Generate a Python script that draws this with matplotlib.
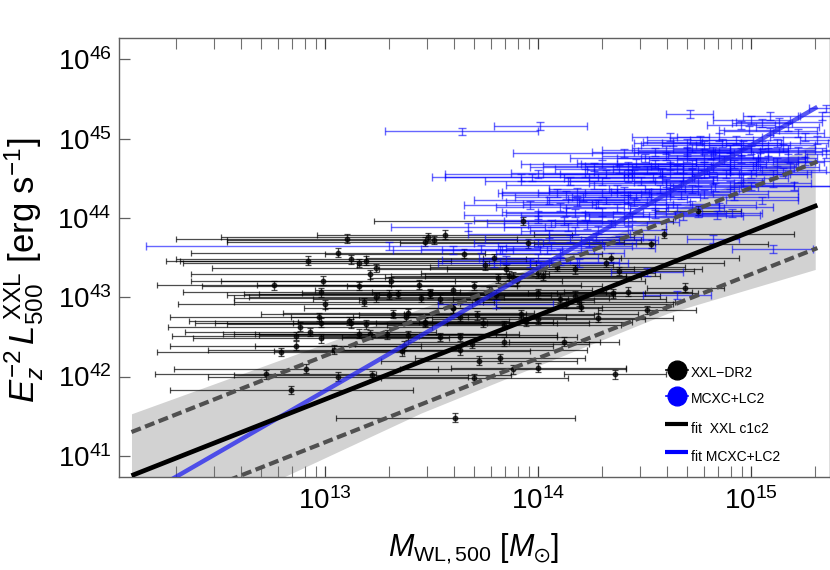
"""
Weak lensing mass vs X-ray luminosity, XXL and MCXC+LC2 samples.
All values read off the picture, kept as log10.
"""
import numpy as np
import matplotlib
matplotlib.use('Agg')
import matplotlib.pyplot as plt
from matplotlib.ticker import LogLocator, NullFormatter, FuncFormatter

# XXL-DR2 clusters: log10 mass, log10 luminosity, mass error in dex
BLACK_LOGM = [13.10, 13.48, 13.56, 13.47, 13.51, 13.06, 12.92, 13.12, 13.16, 13.19,
              13.24, 13.21, 12.99, 12.76, 13.16, 13.31, 13.44, 12.98, 13.30, 13.34,
              13.49, 13.45, 13.24, 13.18, 13.00, 13.60, 12.97, 13.32, 13.39, 13.38,
              12.98, 13.11, 13.12, 13.19, 13.47, 12.88, 12.93, 12.86, 12.98, 13.16,
              13.21, 13.29, 13.39, 13.63, 12.86, 12.79, 13.04, 13.37, 13.36, 12.91,
              12.72, 13.06, 13.22, 12.84, 13.61,
              13.93, 14.59, 14.53, 13.95, 13.79, 14.34, 14.32, 14.09, 14.17, 14.38,
              13.85, 13.86, 13.88, 14.02, 13.81, 14.75,
              14.69, 14.42, 14.35, 14.13, 14.51, 14.28, 14.19, 14.10, 14.00, 13.94,
              13.74, 13.47, 13.71, 13.60, 13.80, 13.77, 13.71, 13.49, 13.69, 14.12,
              13.72, 13.82, 13.88, 14.00, 13.70, 14.36,
              13.63, 13.84, 13.54, 13.63, 13.84, 13.92, 14.20, 14.00, 14.17, 13.54,
              13.60, 13.70, 13.90, 14.00, 13.75, 13.65]
BLACK_LOGL = [43.74, 43.76, 43.79, 43.70, 43.72, 43.56, 43.46, 43.48, 43.43, 43.46,
              43.37, 43.29, 43.21, 43.15, 43.14, 43.20, 43.16, 43.06, 43.03, 43.04,
              43.04, 42.99, 43.00, 42.94, 42.91, 42.86, 42.75, 42.79, 42.80, 42.75,
              42.68, 42.70, 42.67, 42.66, 42.68, 42.63, 42.56, 42.51, 42.48, 42.54,
              42.53, 42.53, 42.52, 42.50, 42.39, 42.31, 42.34, 42.39, 42.32, 42.10,
              42.03, 42.00, 42.02, 41.83, 41.48,
              43.96, 43.80, 43.67, 43.68, 43.49, 43.50, 43.43, 43.38, 43.35, 43.33,
              43.35, 43.27, 43.26, 43.27, 43.24, 44.09,
              43.12, 43.07, 43.05, 42.92, 42.84, 42.74, 42.94, 42.98, 42.72, 42.69,
              42.68, 42.69, 42.77, 42.86, 43.03, 43.07, 42.97, 43.05, 42.41, 42.44,
              42.20, 42.23, 42.09, 42.11, 41.98, 42.03,
              42.75, 42.65, 42.50, 42.33, 42.44, 42.79, 42.88, 43.05, 43.02, 42.98,
              43.09, 43.14, 43.20, 43.30, 43.40, 43.55]
BLACK_XERR = [0.80, 0.97, 0.60, 0.93, 0.97, 0.69, 0.67, 0.82, 0.83, 0.87,
              0.77, 0.84, 0.62, 0.55, 0.74, 0.80, 0.76, 0.65, 0.76, 0.65,
              0.87, 0.88, 0.60, 0.61, 0.69, 0.70, 0.70, 0.62, 0.59, 0.54,
              0.59, 0.75, 0.64, 0.65, 0.62, 0.62, 0.59, 0.58, 0.60, 0.64,
              0.64, 0.62, 0.70, 0.55, 0.59, 0.58, 0.59, 0.70, 0.60, 0.62,
              0.52, 0.61, 0.65, 0.57, 0.56,
              0.70, 0.61, 0.55, 0.60, 0.60, 0.60, 0.55, 0.60, 0.60, 0.35,
              0.60, 0.55, 0.60, 0.55, 0.60, 0.20,
              0.18, 0.30, 0.40, 0.50, 0.23, 0.35, 0.45, 0.50, 0.50, 0.50,
              0.50, 0.60, 0.55, 0.60, 0.55, 0.55, 0.55, 0.60, 0.55, 0.26,
              0.46, 0.40, 0.53, 0.41, 0.44, 0.24,
              0.50, 0.55, 0.55, 0.60, 0.45, 0.55, 0.40, 0.50, 0.40, 0.60,
              0.65, 0.60, 0.60, 0.55, 0.60, 0.65]
BLACK_YERR = 0.055

# MCXC+LC2 clusters
BLUE_LOGM = [13.30, 13.67, 14.71, 14.01, 13.64, 13.92, 13.97, 14.00, 15.05, 15.10,
             14.82, 14.92, 13.80, 14.51, 14.65, 14.19,
             15.35, 15.33, 15.09, 15.00, 15.13, 15.05, 14.95, 14.99, 15.17, 15.09,
             15.22, 14.62, 14.63, 14.76, 14.85, 14.93, 15.31, 15.35, 15.12, 15.25,
             14.55, 14.40, 14.70, 14.81, 14.95, 15.04, 15.17, 14.46, 14.26, 14.38,
             14.51, 14.65, 14.78, 14.90, 15.01, 15.10, 15.18, 14.42, 14.54, 14.68,
             14.82, 14.95, 15.10, 14.26, 14.37, 14.09, 14.13, 14.21, 14.32, 14.45,
             14.57, 14.72, 14.83, 14.67, 14.46, 13.96, 14.10, 14.37, 14.13, 14.17,
             14.44, 14.65, 14.75, 14.84, 14.91, 14.14, 14.23, 14.34, 14.42, 14.06,
             14.17, 14.04, 13.83, 14.24, 14.38, 14.27, 14.06, 13.73, 13.79, 13.96,
             14.70, 14.78, 14.86, 14.96, 15.05, 15.15,
             14.60, 14.72, 14.82, 14.90, 15.00, 15.08, 15.22,
             14.50, 14.60, 14.70, 14.78, 14.87, 14.95, 15.02, 15.12, 15.25,
             14.30, 14.42, 14.55, 14.62, 14.72, 14.82, 14.92, 15.05, 15.15,
             14.22, 14.32, 14.45, 14.58, 14.72, 14.78, 14.88, 15.00,
             14.15, 14.30, 14.48, 14.60, 14.75, 14.90, 15.00, 15.20,
             14.18, 14.30, 14.40, 14.52, 14.62, 14.78, 14.92,
             14.05, 14.18, 14.28, 14.42, 14.55, 14.72, 14.85,
             14.00, 14.22, 14.30, 14.55, 14.68,
             14.00, 14.12, 14.28, 14.05, 14.15, 14.00, 14.20, 14.10, 14.00, 13.60,
             13.85, 14.10]
BLUE_LOGL = [43.64, 43.88, 45.31, 45.16, 45.09, 44.51, 44.51, 44.55, 44.22, 43.61,
             43.73, 44.27, 42.92, 43.32, 43.03, 43.43,
             45.38, 45.28, 45.29, 45.24, 45.21, 45.20, 45.17, 45.11, 45.15, 45.09,
             45.07, 45.02, 44.96, 44.98, 45.02, 44.98, 44.98, 44.81, 44.94, 45.02,
             44.83, 44.82, 44.83, 44.79, 44.83, 44.77, 44.75, 44.69, 44.64, 44.62,
             44.60, 44.62, 44.65, 44.60, 44.65, 44.56, 44.64, 44.50, 44.52, 44.52,
             44.48, 44.50, 44.44, 44.41, 44.37, 44.31, 44.29, 44.26, 44.22, 44.20,
             44.37, 44.37, 44.39, 44.29, 44.27, 44.16, 44.14, 44.12, 44.08, 44.06,
             44.01, 44.12, 44.06, 44.04, 44.06, 43.89, 43.91, 43.93, 43.95, 43.93,
             43.83, 43.59, 43.59, 43.68, 43.72, 43.76, 43.64, 43.61, 43.43, 43.43,
             44.95, 44.92, 44.95, 44.92, 44.92, 44.88,
             44.86, 44.88, 44.85, 44.87, 44.86, 44.83, 44.85,
             44.75, 44.78, 44.75, 44.76, 44.73, 44.74, 44.70, 44.70, 44.72,
             44.68, 44.66, 44.68, 44.66, 44.68, 44.63, 44.68, 44.60, 44.58,
             44.57, 44.55, 44.56, 44.58, 44.57, 44.55, 44.55, 44.55,
             44.47, 44.46, 44.46, 44.44, 44.45, 44.42, 44.40, 44.40,
             44.33, 44.32, 44.34, 44.31, 44.33, 44.30, 44.34,
             44.22, 44.20, 44.17, 44.24, 44.18, 44.16, 44.14,
             44.04, 44.02, 44.07, 44.05, 44.03,
             43.98, 43.96, 43.85, 43.80, 43.74, 43.68, 43.62, 43.56, 43.50, 43.60,
             43.47, 43.45]
BLUE_XERR = [1.14, 0.36, 0.11, 0.22, 0.36, 0.36, 0.47, 0.44, 0.17, 0.19,
             0.12, 0.30, 0.27, 0.17, 0.16, 0.23,
             0.08, 0.10, 0.13, 0.18, 0.20, 0.14, 0.16, 0.14, 0.15, 0.22,
             0.12, 0.18, 0.14, 0.25, 0.20, 0.22, 0.08, 0.10, 0.24, 0.16,
             0.30, 0.52, 0.25, 0.20, 0.18, 0.22, 0.14, 0.28, 0.30, 0.30,
             0.28, 0.30, 0.25, 0.22, 0.20, 0.16, 0.14, 0.30, 0.30, 0.28,
             0.24, 0.22, 0.18, 0.41, 0.32, 0.28, 0.30, 0.32, 0.28, 0.26,
             0.24, 0.22, 0.20, 0.25, 0.30, 0.31, 0.30, 0.24, 0.30, 0.32,
             0.20, 0.22, 0.20, 0.20, 0.14, 0.30, 0.28, 0.26, 0.24, 0.30,
             0.25, 0.22, 0.28, 0.22, 0.18, 0.22, 0.25, 0.28, 0.26, 0.22,
             0.25, 0.30, 0.28, 0.22, 0.25, 0.20,
             0.30, 0.28, 0.35, 0.27, 0.30, 0.25, 0.18,
             0.35, 0.30, 0.33, 0.30, 0.35, 0.30, 0.28, 0.22, 0.15,
             0.38, 0.40, 0.35, 0.40, 0.35, 0.38, 0.30, 0.30, 0.25,
             0.35, 0.30, 0.35, 0.32, 0.30, 0.38, 0.30, 0.28,
             0.40, 0.38, 0.34, 0.36, 0.30, 0.30, 0.38, 0.25,
             0.35, 0.30, 0.35, 0.30, 0.28, 0.30, 0.30,
             0.35, 0.33, 0.35, 0.28, 0.30, 0.30, 0.25,
             0.35, 0.30, 0.30, 0.33, 0.28,
             0.30, 0.28, 0.32, 0.38, 0.40, 0.30, 0.35, 0.30, 0.28, 0.28,
             0.30, 0.28]
BLUE_YERR = 0.05

# fits, log10 end points
FIT_M = [12.09, 15.31]
FIT_XXL = [40.75, 44.16]
FIT_MCXC_M = [12.27, 15.31]
FIT_MCXC = [40.69, 45.40]
UPPER_DASH_M = [12.09, 15.31]
UPPER_DASH = [41.30, 44.71]
LOWER_DASH_M = [12.545, 15.31]
LOWER_DASH = [40.69, 43.62]

# grey band edges
BAND_TOP_M = [12.09, 12.82, 14.00, 14.75, 15.30]
BAND_TOP_L = [41.53, 42.24, 43.40, 44.22, 44.94]
BAND_BOT_M = [12.09, 12.77, 13.45, 13.68, 14.61, 15.30]
BAND_BOT_L = [39.90, 40.69, 41.54, 41.79, 42.80, 43.35]

plt.rcParams['font.family'] = ['Liberation Sans', 'DejaVu Sans']
plt.rcParams['mathtext.fontset'] = 'custom'
plt.rcParams['mathtext.rm'] = 'Liberation Sans'
plt.rcParams['mathtext.it'] = 'Liberation Sans:italic'
plt.rcParams['mathtext.bf'] = 'Liberation Sans:bold'
plt.rcParams['mathtext.fallback'] = 'stixsans'


def draw_points(ax, logm, logl, xerr, yerr, color, alpha, lw, cap, marker):
    m = np.array(logm)
    l = np.array(logl)
    e = np.array(xerr)
    x = 10.0 ** m
    y = 10.0 ** l
    xe = [x - 10.0 ** (m - e), 10.0 ** (m + e) - x]
    ye = [y - 10.0 ** (l - yerr), 10.0 ** (l + yerr) - y]
    ax.errorbar(x, y, xerr=xe, yerr=ye, fmt=marker, color=color, ecolor=color, ms=3.2,
                elinewidth=lw, capsize=cap, capthick=lw, alpha=alpha, zorder=3)


fig = plt.figure(figsize=(8.3, 5.7), dpi=100)
ax = fig.add_axes([118.5 / 830, 1 - 477 / 570, 711 / 830, 439.5 / 570])
ax.set_xscale('log')
ax.set_yscale('log')
ax.set_xlim(10 ** 12.029, 10 ** 15.367)
ax.set_ylim(10 ** 40.733, 10 ** 46.275)

# band
xs = sorted(set(BAND_TOP_M + BAND_BOT_M))
top = np.interp(xs, BAND_TOP_M, BAND_TOP_L)
bot = np.interp(xs, BAND_BOT_M, BAND_BOT_L)
ax.fill_between(10.0 ** np.array(xs), 10.0 ** bot, 10.0 ** top, color='#d2d2d2', lw=0, zorder=1)

draw_points(ax, BLACK_LOGM, BLACK_LOGL, BLACK_XERR, BLACK_YERR, 'black', 0.7, 0.9, 2.5, 'o')
draw_points(ax, BLUE_LOGM, BLUE_LOGL, BLUE_XERR, BLUE_YERR, '#0000ff', 0.6, 1.0, 2.8, 'none')

ax.plot(10.0 ** np.array(UPPER_DASH_M), 10.0 ** np.array(UPPER_DASH), color='#505050', lw=3,
        dashes=(2.4, 1.1), zorder=4)
ax.plot(10.0 ** np.array(LOWER_DASH_M), 10.0 ** np.array(LOWER_DASH), color='#505050', lw=3,
        dashes=(2.4, 1.1), zorder=4)
ax.plot(10.0 ** np.array(FIT_MCXC_M), 10.0 ** np.array(FIT_MCXC), color='#2020f0', lw=3.2,
        alpha=0.75, zorder=5, solid_capstyle='butt')
ax.plot(10.0 ** np.array(FIT_M), 10.0 ** np.array(FIT_XXL), color='black', lw=3.4, zorder=6,
        solid_capstyle='butt')


# hand placed legend, in pixel coordinates of the reference
def px(x, y):
    return (x - 118.5) / 711, (477 - y) / 439.5


for yp, col, lab in [(370, 'black', 'XXL\u2212DR2'), (396, '#0000ff', 'MCXC+LC2')]:
    xa, ya = px(677, yp)
    ax.plot([xa], [ya], 'o', color=col, ms=13.5, transform=ax.transAxes, zorder=8)
    xl, _ = px(666, yp)
    xr, _ = px(688, yp)
    ax.plot([xl, xr], [ya, ya], color=col, lw=1.2, transform=ax.transAxes, zorder=8)
    xt, yt = px(691, yp + 3)
    ax.text(xt, yt, lab, transform=ax.transAxes, fontsize=10, va='center', zorder=9)
for yp, col, lab in [(424, 'black', 'fit  XXL c1c2'), (452, '#0000ff', 'fit MCXC+LC2')]:
    xl, ya = px(665, yp)
    xr, _ = px(688, yp)
    ax.plot([xl, xr], [ya, ya], color=col, lw=3, transform=ax.transAxes, zorder=8,
            solid_capstyle='butt')
    xt, yt = px(691, yp + 5)
    ax.text(xt, yt, lab, transform=ax.transAxes, fontsize=10, va='center', zorder=9)

# axes
for s in ax.spines.values():
    s.set_color('#606060')
    s.set_linewidth(1.0)
ax.xaxis.set_major_locator(LogLocator(base=10, numticks=10))
ax.xaxis.set_minor_locator(LogLocator(base=10, subs=np.arange(2, 10), numticks=10))
ax.xaxis.set_minor_formatter(NullFormatter())
ax.yaxis.set_major_locator(LogLocator(base=10, numticks=10))
ax.yaxis.set_minor_formatter(NullFormatter())
ax.yaxis.set_minor_locator(plt.NullLocator())
fmt = FuncFormatter(lambda v, p: '$\\mathregular{10^{%d}}$' % round(np.log10(v)))
ax.xaxis.set_major_formatter(fmt)
ax.yaxis.set_major_formatter(fmt)
ax.tick_params(axis='x', which='major', direction='in', top=True, length=8, width=0.9,
               color='#404040', labelsize=20, pad=7)
ax.tick_params(axis='x', which='minor', direction='in', top=True, length=8, width=0.8,
               color='#707070')
ax.tick_params(axis='y', which='major', direction='in', length=8, width=0.9,
               color='#606060', labelsize=20, pad=5)

fig.text(474 / 830, 1 - 549 / 570, r'$M_{\mathrm{WL,500}}\ [M_{\odot}]$', fontsize=22,
         ha='center', va='center')
fig.text(24 / 830, 1 - 270 / 570, r'$E_z^{-2}\,L_{500}^{\,\mathrm{XXL}}\ [\mathrm{erg\ s^{-1}}]$',
         fontsize=25, rotation=90, ha='center', va='center')

fig.savefig('out.png', dpi=100)
